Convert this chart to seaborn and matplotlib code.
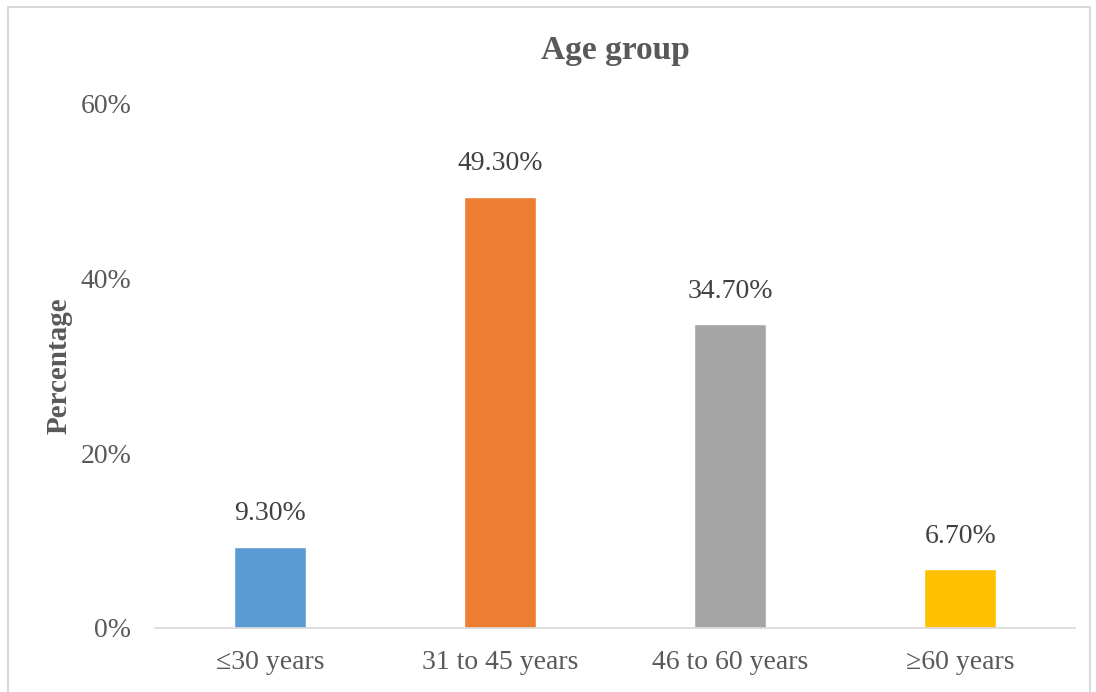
import matplotlib.pyplot as plt
import seaborn as sns
import pandas as pd
from matplotlib.patches import Rectangle

groups = ["≤30 years", "31 to 45 years", "46 to 60 years", "≥60 years"]
percent = [9.3, 49.3, 34.7, 6.7]
colors = ["#5B9BD5", "#ED7D31", "#A5A5A5", "#FFC000"]
yticks = [0, 20, 40, 60]

df = pd.DataFrame({"group": groups, "pct": percent})

sns.set_style("white")
plt.rcParams["font.family"] = ["Liberation Serif", "DejaVu Serif"]
text_col = "#595959"

fig = plt.figure(figsize=(10.96, 6.92), dpi=100)
ax = fig.add_axes([0.1414, 0.0925, 0.8396, 0.7585])

sns.barplot(data=df, x="group", y="pct", hue="group", palette=colors,
            width=0.31, legend=False, ax=ax, saturation=1)

# value labels above the bars
for i, v in enumerate(percent):
    ax.text(i, v + 3.8, f"{v:.2f}%", ha="center", va="center",
            fontsize=20, color="#404040")

ax.set_ylim(0, 60)
ax.set_xlim(-0.5, 3.5)
ax.set_yticks(yticks)
ax.set_yticklabels([f"{t}%" for t in yticks])
ax.tick_params(axis="y", length=0, pad=17, labelsize=20, labelcolor=text_col)
ax.tick_params(axis="x", length=0, pad=16, labelsize=20, labelcolor=text_col)
ax.set_xlabel("")
ax.set_ylabel("Percentage", fontsize=21, fontweight="bold", color=text_col)
ax.yaxis.set_label_coords(-0.09, 0.5)
ax.set_title("Age group", fontsize=24, fontweight="bold", color=text_col, pad=32)

for s in ["top", "right", "left"]:
    ax.spines[s].set_visible(False)
ax.spines["bottom"].set_color("#D9D9D9")
ax.spines["bottom"].set_linewidth(1.2)

# outer chart frame
fig.patches.append(Rectangle((8 / 1096, -0.05), 1082 / 1096, 1 - 7 / 692 + 0.05,
                             transform=fig.transFigure, fill=False,
                             edgecolor="#D9D9D9", linewidth=1.5))

fig.savefig("out.png", dpi=100)
